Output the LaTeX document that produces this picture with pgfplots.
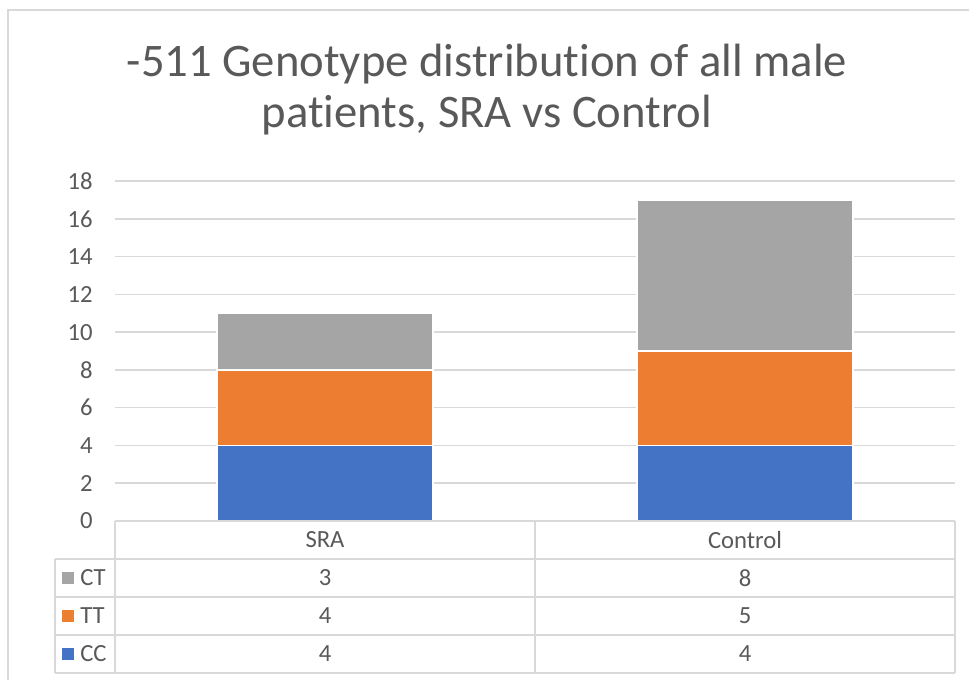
\documentclass[border=0pt]{standalone}
\usepackage{fontspec}
\setmainfont{Carlito}[Ligatures={NoCommon,NoContextual}]
\usepackage{pgfplots}
\usepackage{pgfplotstable}
\pgfplotsset{compat=1.18}

\definecolor{ccblue}{HTML}{4472C4}
\definecolor{ttorange}{HTML}{ED7D31}
\definecolor{ctgray}{HTML}{A5A5A5}
\definecolor{gridgray}{HTML}{D9D9D9}
\definecolor{txtgray}{HTML}{595959}

% genotype counts per group
\pgfplotstableread{
group   CC TT CT
SRA     4  4  3
Control 4  5  8
}\datatable

\begin{document}
\begin{tikzpicture}
  % canvas in pixels of the 969x680 reference (y grows downwards)
  \begin{scope}[x=0.75pt,y=-0.75pt]
    \path[use as bounding box] (0,0) rectangle (969,680);
    \draw[gridgray, line width=1.5pt] (8,680) -- (8,10) -- (969,10);
    \node[anchor=base, text=txtgray, font=\fontsize{35}{40}\selectfont] at (487,77) {-511 Genotype distribution of all male};
    \node[anchor=base, text=txtgray, font=\fontsize{35}{40}\selectfont] at (487,128) {patients, SRA vs Control};
  \end{scope}

  \begin{axis}[
    at={(86.25pt,-390.75pt)}, anchor=south west,
    width=630pt, height=255pt, scale only axis,
    ybar stacked, bar width=162pt,
    xmin=0, xmax=2, ymin=0, ymax=18,
    ytick distance=2, xtick=\empty,
    axis line style={draw=none},
    major tick style={draw=none},
    ymajorgrids, grid style={gridgray, line width=1.2pt},
    yticklabel style={font=\fontsize{18.5}{22}\selectfont, text=txtgray, inner sep=0pt, xshift=-16.5pt},
    /pgf/number format/assume math mode=true,
    clip=false,
  ]
    \addplot[fill=ccblue, draw=white, line width=1.2pt] table[x expr=\coordindex+0.5, y=CC] {\datatable};
    \addplot[fill=ttorange, draw=white, line width=1.2pt] table[x expr=\coordindex+0.5, y=TT] {\datatable};
    \addplot[fill=ctgray, draw=white, line width=1.2pt] table[x expr=\coordindex+0.5, y=CT] {\datatable};
  \end{axis}

  % data table under the plot
  \begin{scope}[x=0.75pt,y=-0.75pt, font=\fontsize{18.5}{22}\selectfont, text=txtgray]
    \draw[gridgray, line width=1.5pt]
      (115,521) -- (955,521)
      (55,559) -- (955,559)
      (55,597) -- (955,597)
      (55,635) -- (955,635)
      (55,673) -- (955,673)
      (55,559) -- (55,673)
      (115,521) -- (115,673)
      (535,521) -- (535,673)
      (955,521) -- (955,673);
    \node at (325,540) {SRA};
    \node at (745,540) {Control};
    \foreach \col/\yy/\clr in {CT/578/ctgray, TT/616/ttorange, CC/654/ccblue} {
      \fill[\clr] (62,\yy-6) rectangle (74,\yy+6);
      \node[anchor=west, inner sep=0pt] at (80,\yy) {\col};
      \foreach \row/\xx in {0/325, 1/745} {
        \pgfplotstablegetelem{\row}{\col}\of\datatable
        \node at (\xx,\yy) {\pgfplotsretval};
      }
    }
  \end{scope}
\end{tikzpicture}
\end{document}
